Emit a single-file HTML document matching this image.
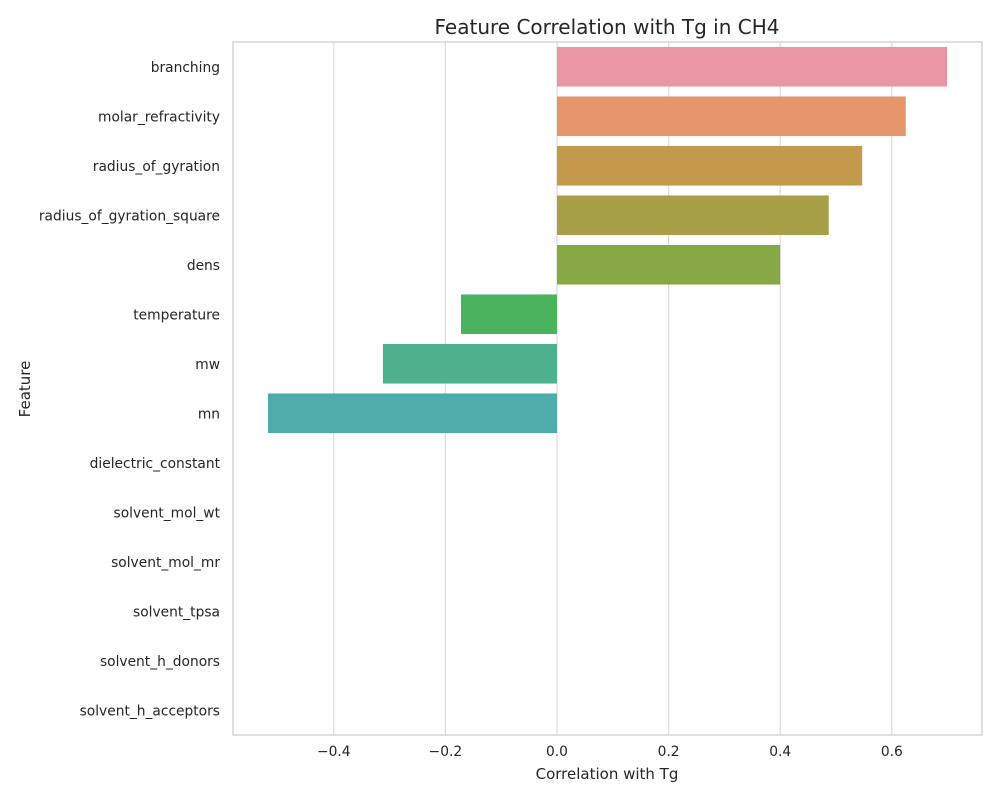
<!DOCTYPE html>
<html><head><meta charset="utf-8"><style>
body{margin:0;background:#fff;font-family:"DejaVu Sans","Liberation Sans",sans-serif;}
svg text{font-family:"DejaVu Sans","Liberation Sans",sans-serif;fill:#262626;}
</style></head><body>
<svg id="chart" width="1000" height="800">
<rect width="1000" height="800" fill="#fff"/>
<text x="607" y="34" font-size="20" text-anchor="middle">Feature Correlation with Tg in CH4</text>
<g id="grid"></g><g id="bars"></g><g id="yticks"></g><g id="xticks"></g>
<rect x="233" y="42" width="749" height="693" fill="none" stroke="#cccccc" stroke-width="1.2"/>
<text x="607" y="779" font-size="15" text-anchor="middle">Correlation with Tg</text>
<text x="30" y="389" font-size="15" text-anchor="middle" transform="rotate(-90 30 389)">Feature</text>
</svg>
<script>
const features=["branching","molar_refractivity","radius_of_gyration","radius_of_gyration_square","dens","temperature","mw","mn","dielectric_constant","solvent_mol_wt","solvent_mol_mr","solvent_tpsa","solvent_h_donors","solvent_h_acceptors"];
const values=[0.699,0.625,0.547,0.487,0.400,-0.172,-0.312,-0.518,0,0,0,0,0,0];
const colors=["#ea96a3","#e4956a","#c39a4b","#a7a048","#88a846","#4bb35d","#4cb18c","#4eadab","#50aac2","#55a5d8","#8a9de9","#b594e9","#dd8de6","#e890c8"];
const xTicks=[-0.4,-0.2,0,0.2,0.4,0.6];
const ns="http://www.w3.org/2000/svg";
const L=233,T=42,H=693;
const xs=v=>557+v*558;
const band=H/features.length;
const ys=i=>T+band*i;
function mk(t,a,p){const e=document.createElementNS(ns,t);for(const k in a)e.setAttribute(k,a[k]);p.appendChild(e);return e;}
const grid=document.getElementById('grid'),bars=document.getElementById('bars'),yt=document.getElementById('yticks'),xt=document.getElementById('xticks');
xTicks.forEach(v=>{
 const g=mk('line',{x1:xs(v),x2:xs(v),y1:T,y2:T+H,stroke:'#dddddd','stroke-width':1.2},grid);
 
 
 const t=mk('text',{x:xs(v),y:756,'font-size':13.8,'text-anchor':'middle'},xt);
 t.textContent=(v<0?'\u2212':'')+Math.abs(v).toFixed(1);
 
 
});
features.forEach((f,i)=>{
 const v=values[i];
 const x0=xs(Math.min(0,v)),w=Math.abs(xs(v)-xs(0));
 const r=mk('rect',{x:x0,y:ys(i)+band*0.1,width:w,height:band*0.8,fill:colors[i]},bars);
 
 
 const t=mk('text',{x:220,y:ys(i)+band/2+5,'font-size':13.8,'text-anchor':'end'},yt);
 t.textContent=f;
 
 
});
</script>
</body></html>
